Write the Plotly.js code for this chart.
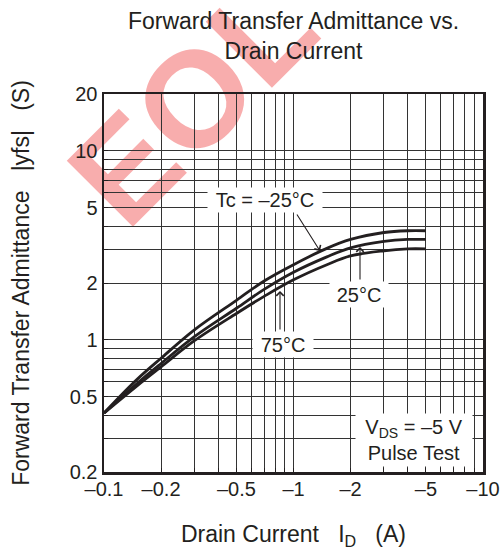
<!DOCTYPE html>
<html>
<head>
<meta charset="utf-8">
<script src="https://cdn.plot.ly/plotly-3.0.1.min.js"></script>
<style>html,body{margin:0;padding:0;background:#fff;}#chart{width:502px;height:558px;}</style>
</head>
<body>
<div id="chart"></div>
<script>
// ---- data ----
const drainCurrent = [0.1, 0.15, 0.2, 0.3, 0.5, 0.7, 1, 1.5, 2, 3, 4, 5];           // |ID| (A)
const yfsMinus25 = [0.41, 0.62, 0.80, 1.13, 1.62, 2.05, 2.50, 3.05, 3.40, 3.70, 3.78, 3.78];
const yfs25      = [0.41, 0.59, 0.75, 1.04, 1.47, 1.85, 2.28, 2.75, 3.07, 3.32, 3.40, 3.40];
const yfs75      = [0.41, 0.573, 0.72, 0.99, 1.38, 1.70, 2.08, 2.50, 2.78, 2.96, 3.03, 3.03];

const xGridVals = [0.1,0.2,0.3,0.4,0.5,0.6,0.7,0.8,0.9,1,2,3,4,5,6,7,8,9,10];
const xTickLabels = {0.1:'–0.1',0.2:'–0.2',0.5:'–0.5',1:'–1',2:'–2',5:'–5',10:'–10'};
const yGridVals = [0.2,0.3,0.4,0.5,0.6,0.7,0.8,0.9,1,2,3,4,5,6,7,8,9,10,20];
const yTickLabels = {0.2:'0.2',0.5:'0.5',1:'1',2:'2',5:'5',10:'10',20:'20'};

// ---- layout helpers ----
const W = 502, H = 558;
const L = 104, R = 483, T = 94, B = 472;
const px = x => (x - L) / (R - L);
const py = y => (B - y) / (B - T);
const FONT = 'Arial, "Liberation Sans", Helvetica, sans-serif';
const INK = '#231f20';

const curveLine = {color: INK, width: 2.8, shape: 'spline', smoothing: 1};
const traces = [
  {x: drainCurrent, y: yfsMinus25, mode: 'lines', line: curveLine, name: 'Tc = –25°C', hoverinfo: 'skip'},
  {x: drainCurrent, y: yfs25, mode: 'lines', line: curveLine, name: '25°C', hoverinfo: 'skip'},
  {x: drainCurrent, y: yfs75, mode: 'lines', line: curveLine, name: '75°C', hoverinfo: 'skip'}
];

const axisCommon = {
  type: 'log', showgrid: true, gridcolor: '#333', gridwidth: 1,
  showline: true, linecolor: INK, linewidth: 2.5, mirror: true,
  ticks: 'inside', ticklen: 4, tickcolor: INK, tickwidth: 1,
  zeroline: false, tickfont: {family: FONT, size: 20, color: INK},
  tickmode: 'array', fixedrange: true
};

const label = (text, xpx, ypx, w, h) => ({
  text: text, xref: 'paper', yref: 'paper', x: px(xpx), y: py(ypx),
  xanchor: 'center', yanchor: 'middle', showarrow: false,
  bgcolor: '#fff', borderpad: 1, width: w, height: h,
  font: {family: FONT, size: 20, color: INK}
});
const arrow = (tipx, tipy, tailx, taily) => ({
  text: '', xref: 'paper', yref: 'paper', x: px(tipx), y: py(tipy),
  ax: tailx - tipx, ay: taily - tipy, showarrow: true,
  arrowhead: 4, arrowsize: 1.3, arrowwidth: 1.1, arrowcolor: INK
});

const layout = {
  width: W, height: H,
  margin: {l: L, r: W - R, t: T, b: H - B, pad: 0},
  paper_bgcolor: '#fff', plot_bgcolor: 'rgba(0,0,0,0)',
  showlegend: false,
  font: {family: FONT, color: INK},
  title: {
    text: 'Forward Transfer Admittance vs.<br>Drain Current',
    font: {family: FONT, size: 23, color: INK},
    xref: 'paper', x: 0.5, xanchor: 'center',
    yref: 'container', y: 1 - 29 / H, yanchor: 'top'
  },
  xaxis: Object.assign({}, axisCommon, {
    range: [Math.log10(0.1), Math.log10(10)],
    tickvals: xGridVals,
    ticktext: xGridVals.map(v => xTickLabels[v] || ''),
    ticklabelstandoff: -3,
    title: {text: 'Drain Current\u00a0\u00a0\u00a0I<sub>D</sub>\u00a0\u00a0\u00a0(A)', font: {family: FONT, size: 23, color: INK}, standoff: 28}
  }),
  yaxis: Object.assign({}, axisCommon, {
    range: [Math.log10(0.2), Math.log10(20)],
    tickvals: yGridVals,
    ticktext: yGridVals.map(v => yTickLabels[v] || ''),
    title: {text: 'Forward Transfer Admittance\u00a0\u00a0\u00a0|yfs|\u00a0\u00a0\u00a0(S)', font: {family: FONT, size: 23, color: INK}, standoff: 34}
  }),
  shapes: [{
    type: 'rect', xref: 'paper', yref: 'paper', layer: 'below',
    x0: px(133), x1: px(233), y0: py(142), y1: py(42),
    line: {width: 0}, fillcolor: 'rgba(0,0,0,0)',
    label: {text: '<b>EOL</b>', textangle: -45, textposition: 'middle center',
            font: {family: FONT, size: 136, color: 'rgba(236,40,40,0.38)'}}
  }],
  annotations: [
    label('Tc = –25°C', 264.5, 200, 112, 22),
    label('25°C', 359, 294, 56, 23),
    label('75°C', 283, 344, 58, 23),
    label('V<sub>DS</sub> = –5 V<br>Pulse Test', 414, 440, 114, 50),
    arrow(320, 251, 296, 213),
    arrow(360, 247, 360, 281),
    arrow(280, 291, 280, 331)
  ]
};

Plotly.newPlot('chart', traces, layout, {staticPlot: true, displayModeBar: false});
</script>
</body>
</html>
